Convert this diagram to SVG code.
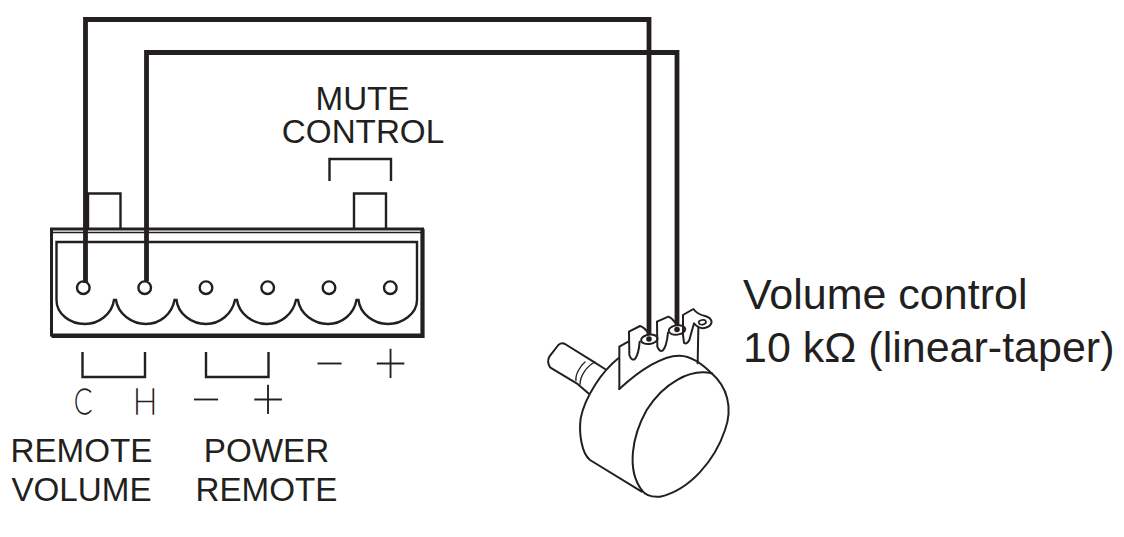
<svg xmlns="http://www.w3.org/2000/svg" width="1124" height="537" viewBox="0 0 1124 537">
<style>
text{font-family:"Liberation Sans",Arial,sans-serif;fill:#231f20}
.lb{font-size:33.200px;text-anchor:middle}
.vc{font-size:43px}
.th{font-family:"Lato","Noto Sans",sans-serif;font-weight:100;text-anchor:middle;stroke:#231f20;stroke-width:1.300px}
.ln{fill:none;stroke:#231f20;stroke-width:2.400}
.wire{fill:none;stroke:#231f20;stroke-width:4.800;stroke-linejoin:miter}
.pot{fill:none;stroke:#231f20;stroke-width:6;stroke-linejoin:round;stroke-linecap:round}
.pw{fill:#fff;stroke:#231f20;stroke-width:6;stroke-linejoin:round}
</style>
<rect width="1124" height="537" fill="#fff"/>
<g id="terminal-block">
<path class="ln" d="M88 228V193.500H120.500V228M354 228V193.500H386V228"/>
<rect x="51.500" y="229" width="371" height="106" fill="none" stroke="#231f20" stroke-width="3"/>
<path class="ln" d="M50 232.500H424" style="stroke-width:1.500"/>
<path d="M51.500 336H422.500V229" fill="none" stroke="#231f20" stroke-width="4.200"/>
<path class="ln" d="M56.500 300V242H417V300C417 314 402 324 388 324C374 324 360 314 358.500 300H356.500C354 314 342 324 328 324C314 324 300 314 298 300H296C293 314 281 324 267 324C253 324 239 314 237 300H235C232 314 220 324 206 324C192 324 178 314 176.500 300H174.500C172 314 160 324 146 324C132 324 118 314 116 300H114C112 314 99 324 85 324C70 324 56.500 314 56.500 300Z"/>
<circle class="ln" cx="83.300" cy="287.700" r="6.300"/>
<circle class="ln" cx="144.700" cy="287.700" r="6.300"/>
<circle class="ln" cx="206" cy="287.700" r="6.300"/>
<circle class="ln" cx="267.700" cy="287.700" r="6.300"/>
<circle class="ln" cx="329" cy="287.700" r="6.300"/>
<circle class="ln" cx="390.300" cy="287.700" r="6.300"/>
</g>
<g id="connectors">
<path class="wire" d="M85.500 283V19.500H649V339"/>
<path class="wire" d="M146.500 281V52.500H677V329"/>
</g>
<g id="potentiometer" transform="translate(530 290) scale(.33333)">
<path class="pot" d="M190 215L105 162Q95 157 85 165L58 200Q50 215 60 232L140 280L175 310M190 215L225 237"/>
<path class="pot" style="stroke-width:4" d="M165 216C150 228 135 255 138 272M195 216C170 228 150 258 150 283"/>
<path class="pot" d="M265 205C215 245 165 320 152 385C146 430 155 490 180 510L335 605"/>
<path class="pot" d="M268 297V170L295 155"/>
<path class="pot" d="M268 297C330 240 400 195 450 197C480 198 510 215 545 250"/>
<path class="pot" d="M545 250C480 235 400 280 350 360C305 440 290 540 335 600"/>
<path class="pot" d="M545 250C590 290 610 350 585 420C555 510 480 600 390 620C360 622 345 615 335 600"/>
<path class="pot" d="M505 115L503 220"/>
<path class="pot" d="M297 125L330 108C345 112 352 125 360 135"/>
<path class="pot" d="M297 125L298 195Q304 212 314 208Q326 195 329 155"/>
<ellipse class="pw" cx="358" cy="148" rx="25" ry="14" transform="rotate(-8 358 148)"/>
<path class="pot" d="M381 95L415 80C430 85 435 100 445 108"/>
<path class="pot" d="M381 95L382 170Q388 186 398 182Q410 170 414 128"/>
<ellipse class="pw" cx="441" cy="120" rx="25" ry="14" transform="rotate(-8 441 120)"/>
<path class="pot" d="M459 75L490 57C500 70 510 75 525 78C548 85 550 100 535 110C520 118 505 115 492 100L478 150Q470 165 462 158L459 135Z"/>
<ellipse class="pot" style="stroke-width:5" cx="517" cy="97" rx="11" ry="7" transform="rotate(-10 517 97)"/>
</g>
<g id="wire-ends">
<circle cx="649" cy="339" r="2.800" fill="#231f20"/>
<circle cx="677" cy="329.500" r="2.800" fill="#231f20"/>
</g>
<g id="brackets">
<path class="ln" d="M82.500 352V377H145V352M206 352V377H268.500V352M329.500 181V159H391V181"/>
</g>
<g id="labels">
<text class="lb" x="362.500" y="110">MUTE</text>
<text class="lb" x="363" y="143">CONTROL</text>
<text class="lb" x="81.500" y="462">REMOTE</text>
<text class="lb" x="81.500" y="501">VOLUME</text>
<text class="lb" x="266.500" y="462">POWER</text>
<text class="lb" x="266.500" y="501">REMOTE</text>
<text class="vc" x="743" y="309">Volume control</text>
<text class="vc" x="743" y="362">10 kΩ (linear-taper)</text>
<text class="th" font-size="36" transform="translate(83 414) scale(.74 1)">C</text>
<text class="th" font-size="36" transform="translate(145 414) scale(.9 1)">H</text>
<text class="th" font-size="57" x="206" y="419">−</text>
<text class="th" font-size="57" x="268" y="419">+</text>
<text class="th" font-size="57" x="329.500" y="382.500">−</text>
<text class="th" font-size="57" x="390.500" y="382.500">+</text>
</g>
</svg>
